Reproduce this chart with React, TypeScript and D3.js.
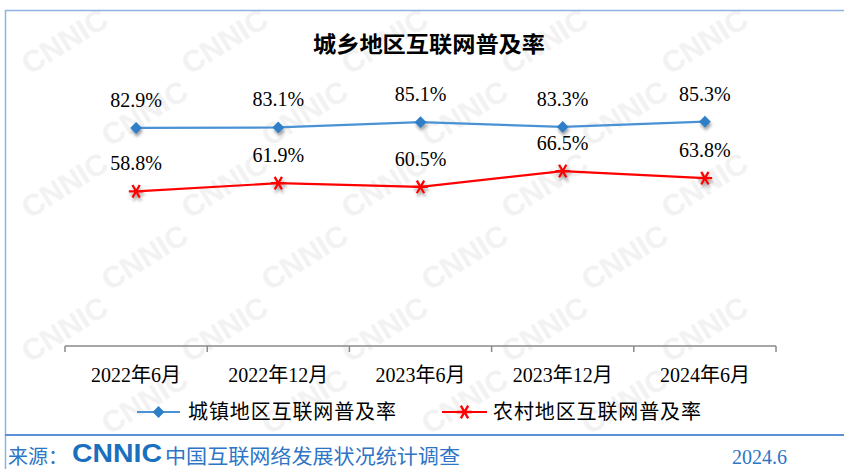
import React, { useEffect, useRef } from 'react';
import * as d3 from 'd3';

const periods = ['2022年6月', '2022年12月', '2023年6月', '2023年12月', '2024年6月'];
const urbanRate = [82.9, 83.1, 85.1, 83.3, 85.3];
const ruralRate = [58.8, 61.9, 60.5, 66.5, 63.8];
const seriesNames = ['城镇地区互联网普及率', '农村地区互联网普及率'];

const W = 844;
const H = 469;
const serif = "'Times New Roman', 'Liberation Serif', 'Noto Sans CJK SC', serif";

const App = () => {
  const svgRef = useRef<SVGSVGElement>(null);

  useEffect(() => {
    const svg = d3.select(svgRef.current);
    svg.selectAll('*').remove();

    const defs = svg.append('defs');
    defs.append('filter').attr('id', 'shadow')
      .attr('x', '-50%').attr('y', '-50%').attr('width', '200%').attr('height', '200%')
      .append('feDropShadow')
      .attr('dx', 1).attr('dy', 3).attr('stdDeviation', 1.5)
      .attr('flood-color', '#555').attr('flood-opacity', 0.55);

    svg.append('rect').attr('width', W).attr('height', H).attr('fill', '#fff');

    // faint watermark, only the copies that fit inside the picture
    const wm = svg.append('g').attr('fill', '#f2f2f2')
      .attr('font-family', "'Liberation Sans', Arial, sans-serif")
      .attr('font-weight', 700).attr('font-size', 30);
    d3.range(0, 7).forEach(r => {
      d3.range(0, 6).forEach(c => {
        const cx = c * 160 + (r % 2 ? 80 : 0) + 70;
        const cy = r * 72 + 50;
        if (cx < 62 || cx > W - 62 || cy < 42 || cy > H - 42) return;
        wm.append('text').attr('x', 0).attr('y', 0)
          .attr('transform', `translate(${cx},${cy}) rotate(-32)`)
          .attr('text-anchor', 'middle').text('CNNIC');
      });
    });

    // frame
    const frame = svg.append('g').attr('fill', 'none');
    frame.append('path').attr('d', `M5.5,${H} V10.5 H${W}`).attr('stroke', '#8db3e2').attr('stroke-width', 1.5);
    frame.append('line').attr('x1', 5).attr('x2', W).attr('y1', 435).attr('y2', 435)
      .attr('stroke', '#5b8fd6').attr('stroke-width', 2);

    // title
    svg.append('text').attr('x', 429).attr('y', 52).attr('text-anchor', 'middle')
      .attr('font-family', "'Noto Sans CJK SC', sans-serif").attr('font-weight', 700)
      .attr('font-size', 22).attr('textLength', 232).attr('lengthAdjust', 'spacingAndGlyphs')
      .attr('fill', '#000').text('城乡地区互联网普及率');

    const x = d3.scaleBand().domain(periods).range([65, 776]);
    const y = d3.scaleLinear().domain([0, 100]).range([346, 83]);
    const cx = (p: string) => (x(p) as number) + x.bandwidth() / 2;

    // axis
    const axis = svg.append('g').attr('transform', 'translate(0,346)')
      .call(d3.axisBottom(x).tickSize(0).tickPadding(0));
    axis.select('.domain').remove();
    axis.selectAll('text')
      .attr('y', 36).attr('dy', 0)
      .attr('font-family', serif).attr('font-size', 20).attr('fill', '#000');
    const edges = periods.map(p => x(p) as number).concat([x.range()[1]]);
    axis.append('line').attr('x1', 65).attr('x2', 776).attr('y1', 0).attr('y2', 0)
      .attr('stroke', '#8a8a8a').attr('stroke-width', 1.5);
    axis.selectAll('line.edge').data(edges).join('line').attr('class', 'edge')
      .attr('x1', d => d).attr('x2', d => d).attr('y1', 0).attr('y2', 6)
      .attr('stroke', '#8a8a8a').attr('stroke-width', 1.5);

    const diamond = d3.symbol(d3.symbolSquare, 70)();
    const star = d3.symbol(d3.symbolAsterisk, 150)();

    const series = [
      { vals: urbanRate, line: '#4a92d4', mark: '#2f7fc8', kind: 'diamond' },
      { vals: ruralRate, line: '#ff0000', mark: '#ff0000', kind: 'star' },
    ];

    const lineGen = d3.line<number>().x((_, i) => cx(periods[i])).y(d => y(d));

    series.forEach(s => {
      svg.append('path').attr('d', lineGen(s.vals)).attr('fill', 'none')
        .attr('stroke', s.line).attr('stroke-width', 2.2);
      const g = svg.append('g').attr('filter', 'url(#shadow)');
      s.vals.forEach((v, i) => {
        const px = cx(periods[i]);
        const py = y(v);
        if (s.kind === 'diamond') {
          g.append('path').attr('d', diamond).attr('fill', s.mark)
            .attr('transform', `translate(${px},${py}) rotate(45)`);
        } else {
          g.append('path').attr('d', star).attr('fill', 'none').attr('stroke', s.mark)
            .attr('stroke-width', 2.3).attr('transform', `translate(${px},${py}) rotate(90)`);
        }
      });
      svg.append('g').selectAll('text').data(s.vals).join('text')
        .attr('x', (_, i) => cx(periods[i])).attr('y', d => y(d) - 21)
        .attr('text-anchor', 'middle').attr('font-family', serif).attr('font-size', 20)
        .attr('fill', '#000').text(d => `${d.toFixed(1)}%`);
    });

    // legend
    const legendItems = [
      { name: seriesNames[0], x0: 137, x1: 180, tx: 188, s: series[0] },
      { name: seriesNames[1], x0: 442, x1: 487, tx: 493, s: series[1] },
    ];
    legendItems.forEach(it => {
      const ly = 412;
      svg.append('line').attr('x1', it.x0).attr('x2', it.x1).attr('y1', ly).attr('y2', ly)
        .attr('stroke', it.s.line).attr('stroke-width', 2.2);
      const mx = (it.x0 + it.x1) / 2;
      if (it.s.kind === 'diamond') {
        svg.append('path').attr('d', diamond).attr('fill', it.s.mark)
          .attr('transform', `translate(${mx},${ly}) rotate(45)`);
      } else {
        svg.append('path').attr('d', star).attr('fill', 'none').attr('stroke', it.s.mark)
          .attr('stroke-width', 2.3).attr('transform', `translate(${mx},${ly}) rotate(90)`);
      }
      svg.append('text').attr('x', it.tx).attr('y', ly + 7)
        .attr('font-family', serif).attr('font-size', 20)
        .attr('textLength', 208).attr('lengthAdjust', 'spacing')
        .attr('fill', '#000').text(it.name);
    });

    // footer
    const blue = '#2e75c6';
    svg.append('text').attr('x', 8).attr('y', 464).attr('font-family', serif)
      .attr('font-size', 20).attr('fill', blue).text('来源：');
    svg.append('text').attr('x', 72).attr('y', 462)
      .attr('font-family', "'Liberation Sans', Arial, sans-serif").attr('font-weight', 700)
      .attr('font-size', 25).attr('textLength', 90).attr('lengthAdjust', 'spacingAndGlyphs')
      .attr('fill', '#1a6fbe').text('CNNIC');
    svg.append('text').attr('x', 165).attr('y', 464).attr('font-family', serif)
      .attr('font-size', 20).attr('textLength', 295).attr('lengthAdjust', 'spacingAndGlyphs')
      .attr('fill', blue).text('中国互联网络发展状况统计调查');
    svg.append('text').attr('x', 787).attr('y', 464).attr('text-anchor', 'end')
      .attr('font-family', serif).attr('font-size', 20).attr('fill', blue).text('2024.6');
  }, []);

  return (
    <svg ref={svgRef} width={W} height={H}
      style={{ position: 'absolute', left: 0, top: 0, display: 'block' }} />
  );
};

export default App;
